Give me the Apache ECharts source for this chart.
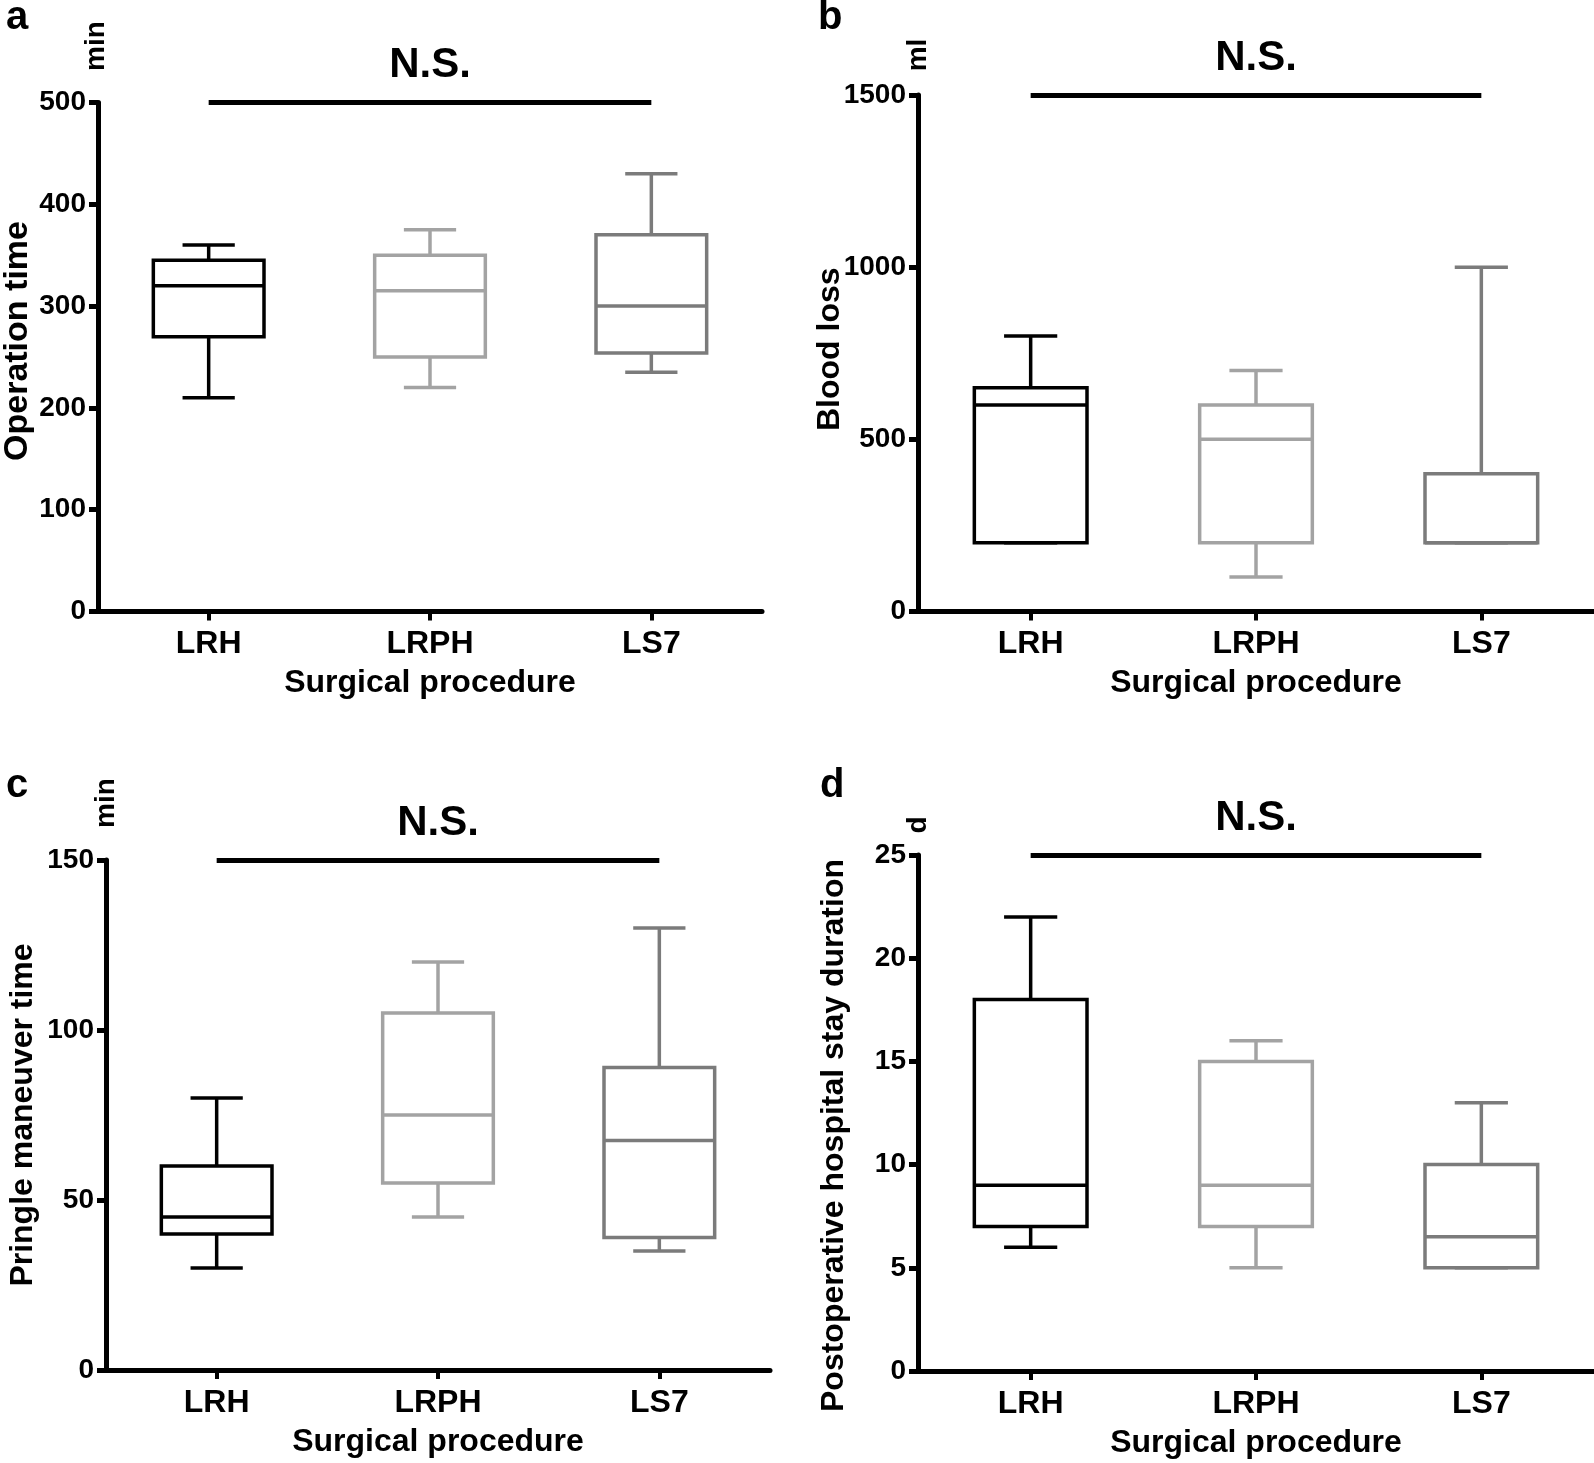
<!DOCTYPE html>
<html><head><meta charset="utf-8">
<script src="https://cdn.jsdelivr.net/npm/echarts@6/dist/echarts.min.js"></script>
<style>html,body{margin:0;padding:0;background:#fff}#c{width:1594px;height:1463px}</style>
</head><body><div id="c"></div>
<script>
// ---- data ----
const categories = ['LRH', 'LRPH', 'LS7'];
// each row: [min, Q1, median, Q3, max]
const operationTime = [[210, 270, 320, 345, 360], [220, 250, 315, 350, 375], [235, 254, 300, 370, 430]];
const bloodLoss = [[200, 200, 600, 650, 800], [100, 200, 500, 600, 700], [200, 200, 200, 400, 1000]];
const pringleTime = [[30, 40, 45, 60, 80], [45, 55, 75, 105, 120], [35, 39, 67.5, 89, 130]];
const hospitalStay = [[6, 7, 9, 18, 22], [5, 7, 9, 15, 16], [5, 5, 6.5, 10, 13]];
const yTitles = ['Operation time', 'Blood loss', 'Pringle maneuver time', 'Postoperative hospital stay duration'];
const units = ['min', 'ml', 'min', 'd'];
const panelLetters = ['a', 'b', 'c', 'd'];
const yMax = [500, 1500, 150, 25];
const yInterval = [100, 500, 50, 5];
const xTitle = 'Surgical procedure';
const sigText = 'N.S.';

// ---- layout / style ----
const FONT = '"Liberation Sans", Arial, Helvetica, sans-serif';
const boxColors = ['#000000', '#a3a3a3', '#7b7b7b'];
const datasets = [operationTime, bloodLoss, pringleTime, hospitalStay];
const grids = [
  { left: 96, top: 102.5, width: 666, height: 509 },
  { left: 918, top: 95, width: 676, height: 516.5 },
  { left: 106, top: 860, width: 664, height: 510 },
  { left: 918, top: 855, width: 676, height: 516 }
];
const yNameGap = [63, 72, 67, 68];
const yNameSize = [34, 32, 32, 32];
const yNamePad = [[0, 0, 0, 32], [0, 0, 0, 8], [0, 0, 0, 0], [0, 45, 0, 0]];
const letterPos = [[6, -2], [818, -2], [6, 766], [820, 766]];
const unitPos = [[96, 46], [918, 55], [106, 803], [918, 825]];

function renderBox(params, api) {
  const idx = api.value(0);
  const vals = [api.value(1), api.value(2), api.value(3), api.value(4), api.value(5)];
  const band = api.size([1, 0])[0];
  const half = band * 0.25, capHalf = band * 0.118;
  const p = vals.map(v => api.coord([idx, v]));
  const cx = p[0][0];
  const color = boxColors[idx];
  const st = { stroke: color, lineWidth: 3.5, fill: null };
  const L = (x1, y1, x2, y2) => ({ type: 'line', shape: { x1, y1, x2, y2 }, style: st });
  return {
    type: 'group',
    children: [
      L(cx, p[3][1], cx, p[4][1]),
      L(cx, p[1][1], cx, p[0][1]),
      L(cx - capHalf, p[4][1], cx + capHalf, p[4][1]),
      L(cx - capHalf, p[0][1], cx + capHalf, p[0][1]),
      { type: 'rect', shape: { x: cx - half, y: p[3][1], width: 2 * half, height: p[1][1] - p[3][1] },
        style: { stroke: color, lineWidth: 3.5, fill: '#fff' } },
      L(cx - half, p[2][1], cx + half, p[2][1])
    ]
  };
}

const option = {
  backgroundColor: '#fff',
  animation: false,
  textStyle: { fontFamily: FONT },
  title: panelLetters.map((t, i) => ({
    text: t, left: letterPos[i][0], top: letterPos[i][1], padding: 0,
    textStyle: { fontSize: 40, fontWeight: 'bold', color: '#000', fontFamily: FONT }
  })),
  grid: grids,
  xAxis: grids.map((g, i) => ({
    gridIndex: i, type: 'category', data: categories,
    name: xTitle, nameLocation: 'middle', nameGap: 56, nameMoveOverlap: false,
    nameTextStyle: { fontSize: 32, fontWeight: 'bold', color: '#000', fontFamily: FONT },
    axisLine: { show: true, lineStyle: { color: '#000', width: 5 } },
    axisTick: { show: true, alignWithLabel: true, length: 9, lineStyle: { color: '#000', width: 4 } },
    axisLabel: { fontSize: 32, fontWeight: 'bold', color: '#000', margin: 17, fontFamily: FONT },
    splitLine: { show: false }
  })),
  yAxis: grids.map((g, i) => ({
    gridIndex: i, type: 'value', min: 0, max: yMax[i], interval: yInterval[i],
    name: yTitles[i], nameLocation: 'middle', nameGap: yNameGap[i], nameMoveOverlap: false,
    nameTextStyle: { fontSize: yNameSize[i], fontWeight: 'bold', color: '#000', fontFamily: FONT, padding: yNamePad[i] },
    axisLine: { show: true, lineStyle: { color: '#000', width: 5 } },
    axisTick: { show: true, length: 9, lineStyle: { color: '#000', width: 5 } },
    axisLabel: { fontSize: 28, fontWeight: 'bold', color: '#000', margin: 12, fontFamily: FONT,
      formatter: v => String(v) },
    splitLine: { show: false }
  })),
  graphic: units.map((u, i) => ({
    type: 'text', x: unitPos[i][0], y: unitPos[i][1], rotation: Math.PI / 2,
    style: { text: u, font: 'bold 28px ' + FONT, fill: '#000', align: 'center', verticalAlign: 'middle' }
  })),
  series: datasets.map((d, i) => ({
    type: 'custom', xAxisIndex: i, yAxisIndex: i, clip: false,
    renderItem: renderBox,
    encode: { x: 0, y: [1, 2, 3, 4, 5] },
    data: d.map((row, k) => [k].concat(row)),
    markLine: {
      silent: true, symbol: ['none', 'none'], animation: false,
      lineStyle: { color: '#000', width: 5, type: 'solid' },
      label: { show: true, position: 'middle', formatter: sigText, distance: 16,
        fontSize: 42, fontWeight: 'bold', color: '#000', fontFamily: FONT },
      data: [[{ coord: [categories[0], yMax[i]] }, { coord: [categories[2], yMax[i]] }]]
    }
  }))
};

const chart = echarts.init(document.getElementById('c'), null, { renderer: 'canvas' });
chart.setOption(option);
</script>
</body></html>
